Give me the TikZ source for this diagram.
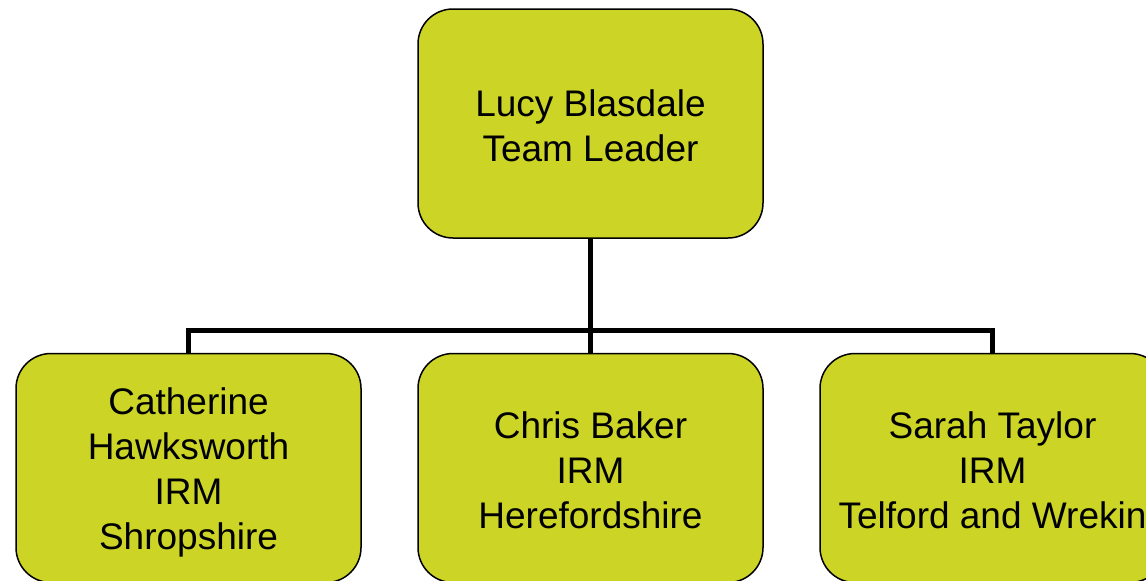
\documentclass[tikz,border=0pt]{standalone}
\usepackage{fontspec}
\setmainfont{Liberation Sans}
\definecolor{boxfill}{RGB}{204,212,38}
\tikzset{
  orgbox/.style={draw=black, line width=1.5pt, fill=boxfill, rounded corners=35pt,
    minimum width=345pt, minimum height=229pt, inner sep=0pt},
  orgtext/.style={inner sep=0pt, align=center, font=\fontsize{37}{45}\selectfont},
  conn/.style={draw=black, line width=5pt, line join=miter}
}
\begin{document}
\begin{tikzpicture}[x=1pt,y=-1pt]
\useasboundingbox (0,0) rectangle (1146,581);
\clip (0,0) rectangle (1146,581);
\fill[white] (0,0) rectangle (1146,581);
\node[orgbox] (top) at (590.5,123.5) {};
\node[orgbox] (c1) at (188.5,468) {};
\node[orgbox] (c2) at (590.5,468) {};
\node[orgbox] (c3) at (992.5,468) {};
\node[orgtext, yshift=-2.5pt] (topt) at (top.center) {Lucy Blasdale\\Team Leader};
\node[orgtext, yshift=-4pt] (c1t) at (c1.center) {Catherine\\Hawksworth\\IRM\\Shropshire};
\node[orgtext, yshift=-2pt] (c2t) at (c2.center) {Chris Baker\\IRM\\Herefordshire};
\node[orgtext, yshift=-2pt] (c3t) at (c3.center) {Sarah Taylor\\IRM\\Telford and Wrekin};
\coordinate (bar) at (590,330);
\draw[conn] (top.south) -- (top.south |- bar);
\draw[conn] (c1.north) -- (c1.north |- bar) -| (c3.north);
\draw[conn] (c2.north) -- (c2.north |- bar);
\end{tikzpicture}
\end{document}
